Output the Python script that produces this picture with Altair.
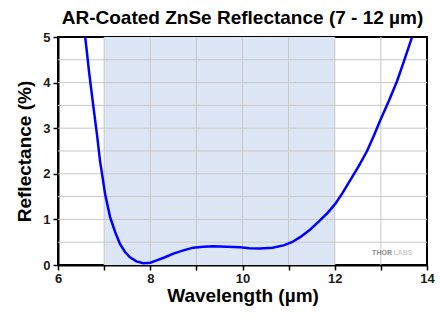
import altair as alt
import pandas as pd

# Curve
wavelength = [6.59, 6.68, 6.77, 6.85, 6.91, 6.97, 7.02, 7.08, 7.13, 7.24, 7.34, 7.45, 7.56, 7.70, 7.85, 8.00, 8.14, 8.32, 8.50, 8.72, 8.93, 9.15, 9.37, 9.65, 9.95, 10.15, 10.38, 10.65, 10.89, 11.07, 11.25, 11.47, 11.68, 11.85, 12.01, 12.17, 12.33, 12.52, 12.70, 12.84, 12.98, 13.17, 13.35, 13.51, 13.67]
reflectance = [5.00, 4.18, 3.45, 2.82, 2.29, 1.90, 1.56, 1.28, 1.05, 0.72, 0.47, 0.29, 0.17, 0.08, 0.04, 0.05, 0.10, 0.17, 0.25, 0.32, 0.38, 0.40, 0.41, 0.40, 0.39, 0.37, 0.36, 0.38, 0.43, 0.50, 0.61, 0.78, 0.98, 1.15, 1.34, 1.58, 1.85, 2.17, 2.50, 2.82, 3.16, 3.59, 4.03, 4.50, 4.98]

band_start = [7]
band_end = [12]

x_ticks = [6, 7, 8, 9, 10, 11, 12, 13, 14]
y_ticks = [0, 0.5, 1, 1.5, 2, 2.5, 3, 3.5, 4, 4.5, 5]
x_grid = [7, 8, 9, 10, 11, 12, 13]
y_grid = [0.5, 1, 1.5, 2, 2.5, 3, 3.5, 4, 4.5]

wm_text = ["THOR", "LABS"]
wm_x = [12.81, 13.27]
wm_y = [0.22, 0.22]
wm_color = ["#8c8c8c", "#d0d0d0"]

FONT = "Liberation Sans"
PLOT_H = 228

curve = pd.DataFrame({"w": wavelength, "r": reflectance})
band = pd.DataFrame({"a": band_start, "b": band_end})
wm = pd.DataFrame({"t": wm_text, "x": wm_x, "y": wm_y, "c": wm_color})
xg = pd.DataFrame({"v": x_grid})
yg = pd.DataFrame({"v": y_grid})

xscale = alt.Scale(domain=[6, 14], nice=False, zero=False)
yscale = alt.Scale(domain=[0, 5], nice=False)

xaxis = alt.Axis(
    title="Wavelength (µm)",
    values=x_ticks,
    labelExpr="datum.value % 2 == 0 ? datum.label : ''",
    grid=False,
    domainColor="black", domainWidth=2,
    tickColor="black", tickSize=5, tickWidth=1.5,
    labelFont=FONT, labelFontSize=13, labelFontWeight="bold", labelColor="#1a1a1a",
    labelPadding=2, labelFlush=False,
    titleFont=FONT, titleFontSize=19, titleFontWeight="bold", titleColor="black",
    titlePadding=1,
)
yaxis = alt.Axis(
    title="Reflectance (%)",
    values=y_ticks,
    labelExpr="datum.value % 1 == 0 ? datum.label : ''",
    grid=False,
    domainColor="black", domainWidth=2,
    tickColor="black", tickSize=5, tickWidth=1.5,
    labelFont=FONT, labelFontSize=13, labelFontWeight="bold", labelColor="#1a1a1a",
    labelPadding=3, labelFlush=False,
    titleFont=FONT, titleFontSize=19, titleFontWeight="bold", titleColor="black",
    titlePadding=8,
)

rect = alt.Chart(band).mark_rect(color="#dce6f5", opacity=1).encode(
    x=alt.X("a:Q", scale=xscale, axis=xaxis),
    x2="b:Q",
    y=alt.value(0),
    y2=alt.value(PLOT_H),
)

xgrid = alt.Chart(xg).mark_rule(color="#c8c8c8", strokeWidth=1).encode(
    x=alt.X("v:Q", scale=xscale),
)
ygrid = alt.Chart(yg).mark_rule(color="#c8c8c8", strokeWidth=1).encode(
    y=alt.Y("v:Q", scale=yscale, axis=yaxis),
)

line = alt.Chart(curve).mark_line(color="#0000ff", strokeWidth=2.5, clip=True).encode(
    x=alt.X("w:Q", scale=xscale),
    y=alt.Y("r:Q", scale=yscale),
)

text = alt.Chart(wm).mark_text(
    font=FONT, fontSize=7, fontWeight="bold", align="left", baseline="alphabetic"
).encode(
    x=alt.X("x:Q", scale=xscale),
    y=alt.Y("y:Q", scale=yscale),
    text="t:N",
    color=alt.Color("c:N", scale=None),
)

chart = alt.layer(rect, xgrid, ygrid, line, text).properties(
    width=369,
    height=PLOT_H,
    title=alt.Title(
        "AR-Coated ZnSe Reflectance (7 - 12 µm)",
        font=FONT, fontSize=19, fontWeight="bold", color="black", offset=3,
        anchor="middle", frame="group",
    ),
    autosize=alt.AutoSizeParams(type="none"),
    padding={"left": 50, "top": 29, "right": 10, "bottom": 43},
).configure_view(
    stroke="black", strokeWidth=2
)

chart.save("out.html", embed_options={"renderer": "svg", "actions": False})
